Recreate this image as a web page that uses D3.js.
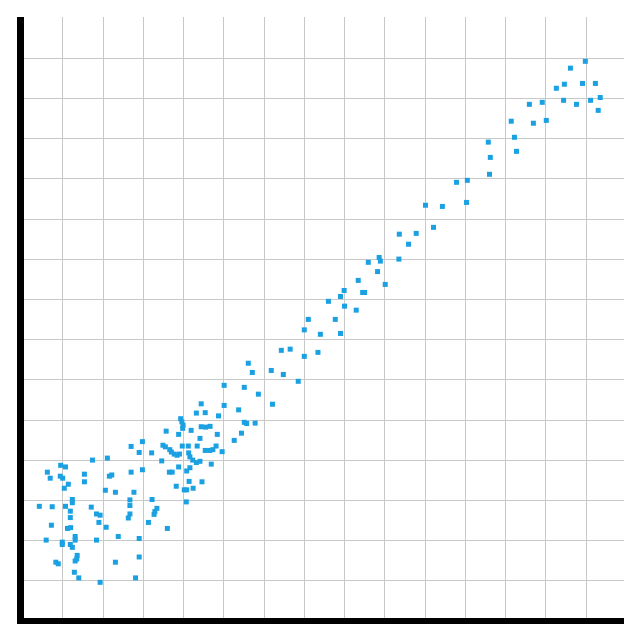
<!DOCTYPE html>
<html>
<head>
<meta charset="utf-8">
<script src="https://cdn.jsdelivr.net/npm/d3@7"></script>
<style>
  html, body { margin: 0; padding: 0; background: #fff; }
  svg { display: block; }
</style>
</head>
<body>
<svg id="chart" width="640" height="640"></svg>
<script>
// ---- data ----
const xValues = [
  1.75,2.12,0.96,1.08,0.63,0.70,0.95,1.01,1.55,1.55,2.17,2.23,2.71,1.15,1.05,2.07,2.32,2.78,1.25,1.25,
  0.43,0.75,1.08,1.20,1.72,1.85,1.94,1.20,1.91,2.68,2.68,2.68,2.64,0.73,1.13,1.21,2.09,0.60,1.00,1.00,
  1.32,1.32,1.20,1.25,1.85,2.39,2.91,1.37,1.36,1.32,0.84,0.90,2.32,2.91,1.30,1.41,1.94,2.82,
  3.94,3.97,4.00,3.99,3.58,4.20,3.89,2.99,2.71,3.50,3.56,3.67,3.71,3.78,3.85,3.91,3.98,4.13,4.35,4.14,
  4.17,4.24,4.33,4.42,2.91,3.22,3.47,2.99,3.66,3.73,3.89,4.09,4.17,4.15,3.83,4.03,4.09,4.25,3.23,3.35,
  3.30,3.28,4.08,3.14,3.61,5.02,4.45,5.02,4.33,4.55,4.88,5.38,4.45,4.56,4.67,4.85,4.42,5.27,4.55,4.66,
  4.74,4.82,4.97,4.70,4.47,7.01,6.44,6.66,7.01,7.35,5.62,5.72,6.19,6.49,6.86,5.52,5.87,6.22,5.52,5.58,
  5.79,5.45,8.87,8.90,9.36,8.60,8.83,8.35,9.02,8.00,7.91,8.46,8.51,7.61,8.01,8.30,7.11,7.78,7.41,7.91,
  11.61,10.79,11.06,11.04,10.02,10.44,10.22,9.37,9.79,9.60,13.99,13.62,13.27,13.47,13.92,14.24,14.36,14.12,13.77,13.45,
  14.31,12.92,12.60,13.02,12.70,12.15,12.23,12.28,11.58,11.63
];
const yValues = [
  3.99,4.04,3.86,3.82,3.69,3.54,3.59,3.54,3.64,3.45,3.59,3.62,3.69,3.39,3.29,3.24,3.19,3.19,3.01,2.93,
  2.84,2.83,2.84,2.72,2.82,2.65,2.62,2.56,2.44,3.00,2.86,2.65,2.55,2.37,2.29,2.31,2.32,2.00,1.95,1.89,
  2.09,2.00,1.89,1.82,2.00,2.09,2.04,1.62,1.53,1.48,1.45,1.41,1.45,1.58,1.20,1.06,0.95,1.06,
  5.02,4.94,4.86,4.78,4.71,4.73,4.63,4.45,4.33,4.36,4.32,4.25,4.19,4.14,4.11,4.14,4.34,4.34,4.34,4.17,
  4.07,3.99,3.93,3.96,4.18,4.17,3.97,3.75,3.69,3.69,3.82,3.72,3.80,3.46,3.34,3.25,3.25,3.29,3.01,2.79,
  2.71,2.64,2.95,2.44,2.29,5.85,5.39,5.35,5.16,5.17,5.09,5.24,4.82,4.81,4.83,4.63,4.53,4.48,4.23,4.23,
  4.25,4.34,4.20,3.89,3.45,7.23,6.72,6.75,6.57,6.67,6.40,6.17,6.22,6.12,5.95,5.80,5.63,5.38,4.93,4.90,
  4.91,4.66,9.03,8.94,8.99,8.91,8.68,8.46,8.36,8.21,8.06,8.16,8.16,7.94,7.82,7.72,7.49,7.49,7.12,7.14,
  11.10,10.90,10.95,10.40,10.33,10.30,9.78,9.61,9.63,9.36,13.91,13.74,13.24,13.34,13.36,13.36,13.01,12.94,12.84,12.94,
  12.69,12.89,12.84,12.44,12.37,12.42,12.02,11.67,11.90,11.52
];
const xDomain = [0, 15];
const yDomain = [0, 15];
const xGridTicks = [1,2,3,4,5,6,7,8,9,10,11,12,13,14];
const yGridTicks = [1,2,3,4,5,6,7,8,9,10,11,12,13,14];

// ---- layout ----
const svg = d3.select("#chart");
const plotLeft = 24, plotRight = 624, plotTop = 17, plotBottom = 618;

const x = d3.scaleLinear().domain(xDomain).range([22, 626]);
const y = d3.scaleLinear().domain(yDomain).range([620.5, 17.5]);

const points = xValues.map((v, i) => ({ x: v, y: yValues[i] }));

// grid
const grid = svg.append("g").attr("class", "grid");
grid.selectAll("line.v").data(xGridTicks).join("line")
  .attr("class", "v")
  .attr("x1", d => Math.round(x(d)) + 0.5).attr("x2", d => Math.round(x(d)) + 0.5)
  .attr("y1", plotTop).attr("y2", plotBottom)
  .attr("stroke", "#c8c8c8").attr("stroke-width", 1);
grid.selectAll("line.h").data(yGridTicks).join("line")
  .attr("class", "h")
  .attr("y1", d => Math.round(y(d)) + 0.5).attr("y2", d => Math.round(y(d)) + 0.5)
  .attr("x1", plotLeft).attr("x2", plotRight)
  .attr("stroke", "#c8c8c8").attr("stroke-width", 1);

// points
const size = 5;
svg.append("g").attr("class", "points")
  .selectAll("rect").data(points).join("rect")
  .attr("x", d => x(d.x) - size / 2)
  .attr("y", d => y(d.y) - size / 2)
  .attr("width", size).attr("height", size)
  .attr("fill", "#1ba1e2");

// axes (thick black lines, no labels)
svg.append("line")
  .attr("x1", 20.5).attr("x2", 20.5)
  .attr("y1", 17).attr("y2", 624)
  .attr("stroke", "#000").attr("stroke-width", 7);
svg.append("line")
  .attr("x1", 17).attr("x2", 624)
  .attr("y1", 621).attr("y2", 621)
  .attr("stroke", "#000").attr("stroke-width", 6);
</script>
</body>
</html>
